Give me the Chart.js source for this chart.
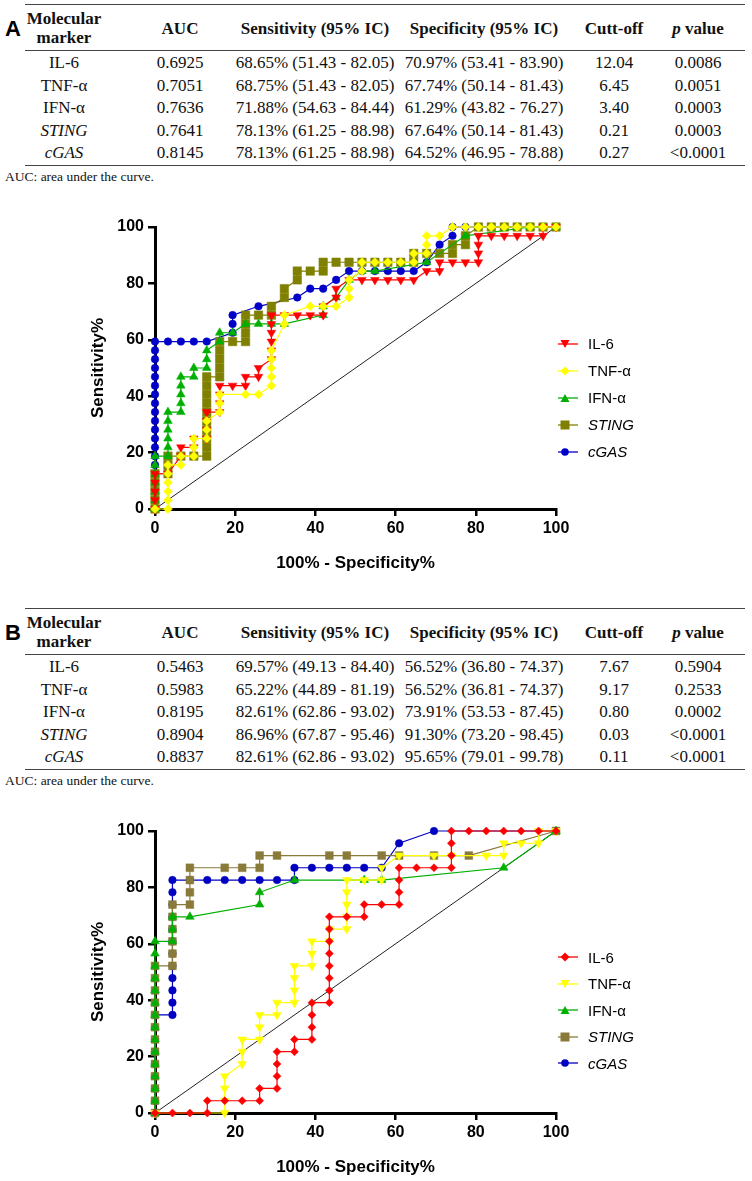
<!DOCTYPE html>
<html>
<head>
<meta charset="utf-8">
<script src="https://cdn.jsdelivr.net/npm/chart.js@4.4.1/dist/chart.umd.min.js"></script>
<style>
html, body { margin: 0; padding: 0; background: #fff; }
body { width: 752px; height: 1181px; position: relative; overflow: hidden; }
.panel { position: absolute; left: 0; width: 752px; height: 604px; }
.lbl { position: absolute; left: 5px; font: bold 22px "Liberation Sans", Arial, sans-serif; }
.rule { position: absolute; left: 25px; width: 720px; border-top: 1px solid #444; }
.cell { position: absolute; width: 220px; text-align: center; font: 17px "Liberation Serif", "Times New Roman", serif; line-height: 20px; white-space: nowrap; color: #111; }
.hd { font-weight: bold; line-height: 19px; }
.note { position: absolute; left: 5px; font: 13.5px "Liberation Serif", "Times New Roman", serif; color: #111; }
canvas.roc { position: absolute; left: 0; top: 200px; }
.legend { position: absolute; left: 558px; font: 15px "Liberation Sans", Arial, sans-serif; color: #000; }
.legend div { height: 27px; display: flex; align-items: center; white-space: nowrap; }
.legend svg { margin-right: 10px; }
</style>
</head>
<body>
<div class="panel" id="panelA" style="top:0px"></div>
<div class="panel" id="panelB" style="top:604px"></div>
<script>
// ---------------- table values ----------------
var markerNames = ['IL-6', 'TNF-\u03b1', 'IFN-\u03b1', '<i>STING</i>', '<i>cGAS</i>'];
var headers = ['Molecular<br>marker', 'AUC', 'Sensitivity (95% IC)', 'Specificity (95% IC)', 'Cutt-off', '<i>p</i> value'];

var aucA = ['0.6925', '0.7051', '0.7636', '0.7641', '0.8145'];
var sensA = ['68.65% (51.43 - 82.05)', '68.75% (51.43 - 82.05)', '71.88% (54.63 - 84.44)', '78.13% (61.25 - 88.98)', '78.13% (61.25 - 88.98)'];
var specA = ['70.97% (53.41 - 83.90)', '67.74% (50.14 - 81.43)', '61.29% (43.82 - 76.27)', '67.64% (50.14 - 81.43)', '64.52% (46.95 - 78.88)'];
var cutA = ['12.04', '6.45', '3.40', '0.21', '0.27'];
var pA = ['0.0086', '0.0051', '0.0003', '0.0003', '<0.0001'];

var aucB = ['0.5463', '0.5983', '0.8195', '0.8904', '0.8837'];
var sensB = ['69.57% (49.13 - 84.40)', '65.22% (44.89 - 81.19)', '82.61% (62.86 - 93.02)', '86.96% (67.87 - 95.46)', '82.61% (62.86 - 93.02)'];
var specB = ['56.52% (36.80 - 74.37)', '56.52% (36.81 - 74.37)', '73.91% (53.53 - 87.45)', '91.30% (73.20 - 98.45)', '95.65% (79.01 - 99.78)'];
var cutB = ['7.67', '9.17', '0.80', '0.03', '0.11'];
var pB = ['0.5904', '0.2533', '0.0002', '<0.0001', '<0.0001'];

// ---------------- ROC curves, [100% - specificity, sensitivity] ----------------
var il6A = [[0,0],[0,3.13],[0,6.25],[0,9.38],[0,12.5],[3.23,12.5],[6.45,18.75],[6.45,21.88],[9.68,21.88],[9.68,25],[12.9,25],[12.9,28.13],[12.9,31.25],[12.9,34.38],[16.13,34.38],[16.13,37.5],[16.13,40.63],[16.13,43.75],[19.35,43.75],[22.58,43.75],[22.58,46.88],[25.81,46.88],[25.81,50],[29.03,53.13],[29.03,56.25],[29.03,59.38],[29.03,62.5],[29.03,65.63],[29.03,68.75],[32.26,68.75],[35.48,68.75],[38.71,68.75],[41.94,68.75],[41.94,71.88],[45.16,75],[45.16,78.13],[48.39,81.25],[51.61,81.25],[54.84,81.25],[58.06,81.25],[61.29,81.25],[64.52,81.25],[67.74,84.38],[70.97,84.38],[70.97,87.5],[74.19,87.5],[77.42,87.5],[80.65,87.5],[80.65,90.63],[80.65,93.75],[80.65,96.88],[83.87,96.88],[87.1,96.88],[90.32,96.88],[93.55,96.88],[96.77,96.88],[96.77,100],[100,100]];
var tnfA = [[0,0],[3.23,0],[3.23,3.13],[3.23,6.25],[3.23,9.38],[3.23,12.5],[3.23,15.63],[6.45,15.63],[6.45,18.75],[9.68,18.75],[9.68,21.88],[9.68,25],[12.9,25],[12.9,28.13],[12.9,31.25],[16.13,34.38],[16.13,37.5],[16.13,40.63],[22.58,40.63],[25.81,40.63],[29.03,43.75],[29.03,46.88],[29.03,50],[29.03,53.13],[29.03,56.25],[32.26,65.63],[32.26,68.75],[38.71,71.88],[41.94,71.88],[45.16,71.88],[48.39,75],[48.39,78.13],[48.39,81.25],[51.61,84.38],[51.61,87.5],[54.84,87.5],[58.06,87.5],[61.29,87.5],[64.52,87.5],[64.52,90.63],[67.74,90.63],[67.74,93.75],[67.74,96.88],[70.97,96.88],[74.19,100],[77.42,100],[80.65,100],[83.87,100],[87.1,100],[90.32,100],[93.55,100],[96.77,100],[100,100]];
var ifnA = [[0,0],[0,3.13],[0,6.25],[0,9.38],[0,12.5],[0,15.63],[0,18.75],[3.23,18.75],[3.23,21.88],[3.23,25],[3.23,28.13],[3.23,31.25],[3.23,34.38],[6.45,34.38],[6.45,37.5],[6.45,40.63],[6.45,43.75],[6.45,46.88],[9.68,46.88],[9.68,50],[12.9,50],[12.9,53.13],[12.9,56.25],[16.13,59.38],[16.13,62.5],[19.35,62.5],[22.58,65.63],[25.81,65.63],[29.03,65.63],[32.26,65.63],[41.94,68.75],[41.94,71.88],[45.16,75],[48.39,81.25],[51.61,84.38],[54.84,84.38],[67.74,87.5],[77.42,96.88],[93.55,100],[100,100]];
var stingA = [[0,0],[0,3.13],[0,6.25],[0,9.38],[0,12.5],[3.23,12.5],[3.23,15.63],[3.23,18.75],[6.45,18.75],[9.68,18.75],[12.9,18.75],[12.9,21.88],[12.9,25],[12.9,28.13],[12.9,31.25],[12.9,34.38],[12.9,37.5],[12.9,40.63],[12.9,43.75],[12.9,46.88],[16.13,46.88],[16.13,50],[16.13,53.13],[16.13,56.25],[16.13,59.38],[19.35,59.38],[22.58,59.38],[22.58,62.5],[22.58,65.63],[22.58,68.75],[25.81,68.75],[29.03,68.75],[29.03,71.88],[32.26,75],[32.26,78.13],[35.48,81.25],[35.48,84.38],[38.71,84.38],[41.94,84.38],[41.94,87.5],[45.16,87.5],[48.39,87.5],[51.61,87.5],[54.84,87.5],[58.06,87.5],[61.29,87.5],[64.52,87.5],[64.52,90.63],[67.74,90.63],[70.97,90.63],[74.19,90.63],[74.19,93.75],[77.42,93.75],[77.42,96.88],[80.65,100],[83.87,100],[87.1,100],[90.32,100],[93.55,100],[96.77,100],[100,100]];
var cgasA = [[0,0],[0,3.13],[0,6.25],[0,9.38],[0,12.5],[0,15.63],[0,18.75],[0,21.88],[0,25],[0,28.13],[0,31.25],[0,34.38],[0,37.5],[0,40.63],[0,43.75],[0,46.88],[0,50],[0,53.13],[0,56.25],[0,59.38],[3.23,59.38],[6.45,59.38],[9.68,59.38],[12.9,59.38],[19.35,62.5],[19.35,65.63],[19.35,68.75],[25.81,71.88],[35.48,75],[38.71,78.13],[41.94,78.13],[45.16,81.25],[48.39,84.38],[51.61,84.38],[54.84,84.38],[58.06,84.38],[61.29,84.38],[64.52,84.38],[67.74,87.5],[70.97,93.75],[74.19,96.88],[74.19,100],[77.42,100],[80.65,100],[83.87,100],[87.1,100],[90.32,100],[93.55,100],[96.77,100],[100,100]];

var il6B = [[0,0],[4.35,0],[8.7,0],[13.04,0],[13.04,4.35],[17.39,4.35],[21.74,4.35],[26.09,4.35],[26.09,8.7],[30.43,8.7],[30.43,13.04],[30.43,17.39],[30.43,21.74],[34.78,21.74],[34.78,26.09],[39.13,26.09],[39.13,30.43],[39.13,34.78],[39.13,39.13],[43.48,39.13],[43.48,43.48],[43.48,47.83],[43.48,52.17],[43.48,56.52],[43.48,60.87],[43.48,65.22],[43.48,69.57],[47.83,69.57],[52.17,69.57],[52.17,73.91],[56.52,73.91],[60.87,73.91],[60.87,78.26],[60.87,82.61],[60.87,86.96],[65.22,86.96],[69.57,86.96],[73.91,86.96],[73.91,91.3],[73.91,95.65],[73.91,100],[78.26,100],[82.61,100],[86.96,100],[91.3,100],[95.65,100],[100,100]];
var tnfB = [[0,0],[17.39,0],[17.39,4.35],[17.39,8.7],[17.39,13.04],[21.74,17.39],[21.74,21.74],[21.74,26.09],[26.09,26.09],[26.09,30.43],[26.09,34.78],[30.43,34.78],[30.43,39.13],[34.78,39.13],[34.78,43.48],[34.78,47.83],[34.78,52.17],[39.13,52.17],[39.13,56.52],[39.13,60.87],[43.48,60.87],[43.48,65.22],[47.83,65.22],[47.83,69.57],[47.83,73.91],[47.83,78.26],[47.83,82.61],[52.17,82.61],[56.52,82.61],[56.52,86.96],[60.87,91.3],[69.57,91.3],[73.91,91.3],[82.61,91.3],[86.96,91.3],[86.96,95.65],[91.3,95.65],[95.65,95.65],[95.65,100],[100,100]];
var ifnB = [[0,0],[0,4.35],[0,8.7],[0,13.04],[0,17.39],[0,21.74],[0,26.09],[0,30.43],[0,34.78],[0,39.13],[0,43.48],[0,47.83],[0,52.17],[0,56.52],[0,60.87],[4.35,60.87],[4.35,65.22],[4.35,69.57],[8.7,69.57],[26.09,73.91],[26.09,78.26],[34.78,82.61],[52.17,82.61],[56.52,82.61],[86.96,86.96],[100,100]];
var stingB = [[0,0],[0,4.35],[0,8.7],[0,13.04],[0,17.39],[0,21.74],[0,26.09],[0,30.43],[0,34.78],[0,39.13],[0,43.48],[0,47.83],[0,52.17],[4.35,52.17],[4.35,56.52],[4.35,60.87],[4.35,65.22],[4.35,69.57],[4.35,73.91],[8.7,73.91],[8.7,78.26],[8.7,82.61],[8.7,86.96],[17.39,86.96],[21.74,86.96],[26.09,86.96],[26.09,91.3],[30.43,91.3],[43.48,91.3],[47.83,91.3],[56.52,91.3],[60.87,91.3],[69.57,91.3],[78.26,91.3],[100,100]];
var cgasB = [[0,0],[0,4.35],[0,8.7],[0,13.04],[0,17.39],[0,21.74],[0,26.09],[0,30.43],[0,34.78],[4.35,34.78],[4.35,39.13],[4.35,43.48],[4.35,47.83],[4.35,52.17],[4.35,56.52],[4.35,60.87],[4.35,65.22],[4.35,69.57],[4.35,73.91],[4.35,78.26],[4.35,82.61],[8.7,82.61],[13.04,82.61],[17.39,82.61],[21.74,82.61],[26.09,82.61],[30.43,82.61],[34.78,82.61],[34.78,86.96],[39.13,86.96],[43.48,86.96],[47.83,86.96],[52.17,86.96],[56.52,86.96],[60.87,95.65],[69.57,100],[100,100]];

var axisTicks = [0, 20, 40, 60, 80, 100];

var seriesA = [
    { label: 'IL-6', data: il6A, color: '#ff0000', style: 'triangle', rot: 180, r: 5, order: 2 },
    { label: 'TNF-\u03b1', data: tnfA, color: '#ffff00', style: 'rectRot', rot: 0, r: 4.5, order: 1 },
    { label: 'IFN-\u03b1', data: ifnA, color: '#00b000', style: 'triangle', rot: 0, r: 5, order: 3 },
    { label: 'STING', data: stingA, color: '#808000', style: 'rect', rot: 0, r: 6, order: 4, italic: true },
    { label: 'cGAS', data: cgasA, color: '#0000c8', style: 'circle', rot: 0, r: 3.8, order: 5, italic: true }
];
var seriesB = [
    { label: 'IL-6', data: il6B, color: '#ff0000', style: 'rectRot', rot: 0, r: 4, order: 1 },
    { label: 'TNF-\u03b1', data: tnfB, color: '#ffff00', style: 'triangle', rot: 180, r: 5, order: 2 },
    { label: 'IFN-\u03b1', data: ifnB, color: '#00b000', style: 'triangle', rot: 0, r: 5, order: 3 },
    { label: 'STING', data: stingB, color: '#8a7a3a', style: 'rect', rot: 0, r: 5.5, order: 4, italic: true },
    { label: 'cGAS', data: cgasB, color: '#0000c0', style: 'circle', rot: 0, r: 3.8, order: 5, italic: true }
];

//-------------------------------------------------------------------------------------

function cell(x, y, txt, cls) {
    return '<div class="cell ' + (cls || '') + '" style="left:' + (x - 110) + 'px;top:' + y + 'px">' + txt + '</div>';
}

function buildTable(panel, letter, auc, sens, spec, cut, pval) {
    var cols = [64, 180, 315, 484, 614, 698];
    var rowY = [53, 75.5, 98, 120.5, 143];
    var html = '<div class="lbl" style="top:16px">' + letter + '</div>';
    html += '<div class="rule" style="top:4px"></div>';
    html += '<div class="rule" style="top:50px"></div>';
    html += '<div class="rule" style="top:165px"></div>';
    html += cell(cols[0], 9, headers[0], 'hd');
    for (var c = 1; c < headers.length; c++) {
        html += cell(cols[c], 19, headers[c], 'hd');
    }
    for (var i = 0; i < markerNames.length; i++) {
        html += cell(cols[0], rowY[i], markerNames[i]);
        html += cell(cols[1], rowY[i], auc[i]);
        html += cell(cols[2], rowY[i], sens[i]);
        html += cell(cols[3], rowY[i], spec[i]);
        html += cell(cols[4], rowY[i], cut[i]);
        html += cell(cols[5], rowY[i], pval[i].replace('<', '&lt;'));
    }
    html += '<div class="note" style="top:169px">AUC: area under the curve.</div>';
    panel.innerHTML = html;
}

function legendIcon(s) {
    var shape = '';
    if (s.style == 'circle') {
        shape = '<circle cx="7" cy="7" r="3.8" fill="' + s.color + '"/>';
    } else if (s.style == 'rect') {
        shape = '<rect x="2.5" y="2.5" width="9" height="9" fill="' + s.color + '"/>';
    } else if (s.style == 'rectRot') {
        shape = '<polygon points="7,2.5 11.5,7 7,11.5 2.5,7" fill="' + s.color + '"/>';
    } else if (s.rot == 180) {
        shape = '<polygon points="2.5,3 11.5,3 7,11" fill="' + s.color + '"/>';
    } else {
        shape = '<polygon points="2.5,11 11.5,11 7,3" fill="' + s.color + '"/>';
    }
    return '<svg width="20" height="14"><line x1="0" y1="7" x2="20" y2="7" stroke="' + s.color + '" stroke-width="1.3"/>' + shape + '</svg>';
}

function buildLegend(panel, series, top, gap) {
    var html = '<div class="legend" style="top:' + top + 'px">';
    for (var i = 0; i < series.length; i++) {
        var s = series[i];
        var txt = s.italic ? '<i>' + s.label + '</i>' : s.label;
        html += '<div style="height:' + gap + 'px">' + legendIcon(s) + txt + '</div>';
    }
    html += '</div>';
    panel.insertAdjacentHTML('beforeend', html);
}

function buildChart(panel, series) {
    var canvas = document.createElement('canvas');
    canvas.className = 'roc';
    canvas.width = 752;
    canvas.height = 400;
    panel.appendChild(canvas);

    var datasets = [];
    for (var i = 0; i < series.length; i++) {
        var s = series[i];
        datasets.push({
            label: s.label,
            data: s.data.map(function (p) { return { x: p[0], y: p[1] }; }),
            showLine: true,
            borderColor: s.color,
            borderWidth: 1.2,
            backgroundColor: s.color,
            pointStyle: s.style,
            rotation: s.rot,
            pointRadius: s.r,
            pointBorderWidth: 0.5,
            pointBorderColor: s.color,
            pointBackgroundColor: s.color,
            order: s.order,
            clip: false
        });
    }
    // chance line
    datasets.push({
        label: 'ref',
        data: [{ x: 0, y: 0 }, { x: 100, y: 100 }],
        showLine: true,
        borderColor: '#222',
        borderWidth: 1,
        pointRadius: 0,
        order: 9,
        clip: false
    });

    var tickFont = { family: '"Liberation Sans", Arial, sans-serif', size: 16, weight: 'bold' };
    var titleFont = { family: '"Liberation Sans", Arial, sans-serif', size: 17, weight: 'bold' };

    new Chart(canvas, {
        type: 'scatter',
        data: { datasets: datasets },
        options: {
            responsive: false,
            animation: false,
            layout: { padding: { left: 0, top: 27, right: 196, bottom: 0 } },
            plugins: { legend: { display: false }, tooltip: { enabled: false } },
            scales: {
                x: {
                    type: 'linear', min: 0, max: 100,
                    afterBuildTicks: function (s) { s.ticks = axisTicks.map(function (v) { return { value: v }; }); },
                    ticks: { font: tickFont, color: '#000', padding: 3, maxRotation: 0 },
                    grid: { display: true, drawOnChartArea: false, tickLength: 7, lineWidth: 2.5, color: '#000' },
                    border: { display: true, width: 3, color: '#000' },
                    title: { display: true, text: '100% - Specificity%', font: titleFont, color: '#000', padding: { top: 0, bottom: 26 } },
                    afterFit: function (s) { s.height = 91; }
                },
                y: {
                    type: 'linear', min: 0, max: 100,
                    afterBuildTicks: function (s) { s.ticks = axisTicks.map(function (v) { return { value: v }; }); },
                    ticks: { font: tickFont, color: '#000', padding: 4 },
                    grid: { display: true, drawOnChartArea: false, tickLength: 7, lineWidth: 2.5, color: '#000' },
                    border: { display: true, width: 3, color: '#000' },
                    title: { display: true, text: 'Sensitivity%', font: titleFont, color: '#000', padding: { top: 88, bottom: 0 } },
                    afterFit: function (s) { s.width = 155; }
                }
            }
        }
    });
}

var pa = document.getElementById('panelA');
var pb = document.getElementById('panelB');
buildTable(pa, 'A', aucA, sensA, specA, cutA, pA);
buildTable(pb, 'B', aucB, sensB, specB, cutB, pB);
buildChart(pa, seriesA);
buildChart(pb, seriesB);
buildLegend(pa, seriesA, 330, 27);
buildLegend(pb, seriesB, 340, 26.5);
</script>
</body>
</html>
